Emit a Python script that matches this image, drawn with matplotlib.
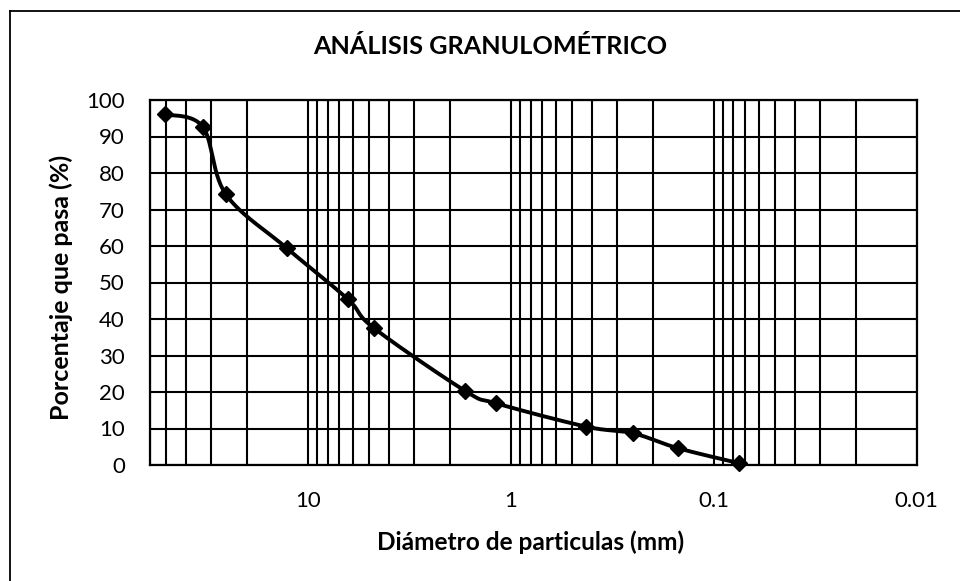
import numpy as np
import matplotlib
matplotlib.use("Agg")
import matplotlib.pyplot as plt
from matplotlib.ticker import FixedLocator, LogLocator, NullFormatter, FixedFormatter
from matplotlib.lines import Line2D

plt.rcParams['font.family'] = ['Lato', 'DejaVu Sans']

# datos del ensayo
diametro = [50.8, 33.0, 25.4, 12.7, 6.35, 4.75, 1.68, 1.18, 0.425, 0.25, 0.15, 0.075]
pasa = [96.1, 92.7, 74.2, 59.4, 45.4, 37.6, 20.3, 16.9, 10.5, 8.7, 4.6, 0.5]
xticks = [10, 1, 0.1, 0.01]
xticklabels = ["10", "1", "0.1", "0.01"]
yticks = list(range(0, 101, 10))

titulo = "ANÁLISIS GRANULOMÉTRICO"
xlabel = "Diámetro de particulas (mm)"
ylabel = "Porcentaje que pasa (%)"


def curva_suave(x, y, sx=203.4, sy=3.65, n=30):
    # spline tipo Excel (Bezier con tangentes de Catmull-Rom) en escala log
    u = np.log10(x) * sx
    v = np.array(y) * sy
    p = np.column_stack([u, v])
    pts = []
    for i in range(len(p) - 1):
        p0 = p[i - 1] if i > 0 else p[i]
        p3 = p[i + 2] if i + 2 < len(p) else p[i + 1]
        p1, p2 = p[i], p[i + 1]
        c1 = p1 + (p2 - p0) / 6
        c2 = p2 - (p3 - p1) / 6
        t = np.linspace(0, 1, n)[:, None]
        seg = (1 - t) ** 3 * p1 + 3 * (1 - t) ** 2 * t * c1 + 3 * (1 - t) * t ** 2 * c2 + t ** 3 * p2
        pts.append(seg if i == 0 else seg[1:])
    pts = np.vstack(pts)
    return 10 ** (pts[:, 0] / sx), pts[:, 1] / sy


fig = plt.figure(figsize=(9.6, 5.81), dpi=100)
ax = fig.add_axes([150 / 960, 1 - 465 / 581, (916.7 - 150) / 960, 365 / 581])

ax.set_xscale('log')
ax.set_xlim(60, 0.01)
ax.set_ylim(0, 100)

ax.xaxis.set_major_locator(FixedLocator(xticks))
ax.xaxis.set_major_formatter(FixedFormatter(xticklabels))
ax.xaxis.set_minor_locator(LogLocator(base=10, subs=np.arange(2, 10)))
ax.xaxis.set_minor_formatter(NullFormatter())
ax.set_yticks(yticks)

ax.grid(True, which='both', axis='x', color='black', lw=1.5)
ax.grid(True, which='major', axis='y', color='black', lw=1.5)
ax.set_axisbelow(True)
for s in ax.spines.values():
    s.set_linewidth(1.6)
    s.set_color('black')

ax.tick_params(which='both', length=0)
ax.tick_params(axis='y', pad=18, labelsize=16)
ax.tick_params(axis='x', pad=19, labelsize=16)

xs, ys = curva_suave(diametro, pasa)
ax.plot(xs, ys, color='black', lw=2.8, clip_on=False, zorder=3)
ax.plot(diametro, pasa, ls='none', marker='D', ms=8, color='black', clip_on=False, zorder=4)

fig.text(490 / 960, 1 - 46 / 581, titulo, ha='center', va='center',
         fontsize=18.2, fontweight='bold')
fig.text(531 / 960, 1 - 542 / 581, xlabel, ha='center', va='center',
         fontsize=17.6, fontweight='bold')
fig.text(61 / 960, 1 - 287 / 581, ylabel, ha='center', va='center',
         fontsize=18, fontweight='bold', rotation=90)

# marco del area del grafico
fig.add_artist(Line2D([10 / 960, 10 / 960], [1 - 11 / 581, -0.05], transform=fig.transFigure,
                      color='black', lw=1.3))
fig.add_artist(Line2D([10 / 960, 1.05], [1 - 11 / 581, 1 - 11 / 581], transform=fig.transFigure,
                      color='black', lw=1.3))

fig.savefig("out.png", dpi=100)
